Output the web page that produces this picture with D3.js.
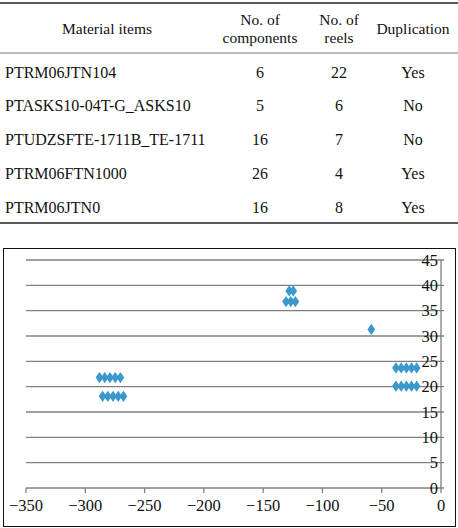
<!DOCTYPE html>
<html>
<head>
<meta charset="utf-8">
<script src="https://cdn.jsdelivr.net/npm/d3@7"></script>
<style>
  body { margin: 0; background: #fff; }
</style>
</head>
<body>
<div class="container"></div>
<script>
var headers = [["Material items"], ["No. of", "components"], ["No. of", "reels"], ["Duplication"]];
var items = ["PTRM06JTN104", "PTASKS10-04T-G_ASKS10", "PTUDZSFTE-1711B_TE-1711", "PTRM06FTN1000", "PTRM06JTN0"];
var components = [6, 5, 16, 26, 16];
var reels = [22, 6, 7, 4, 8];
var duplication = ["Yes", "No", "No", "Yes", "Yes"];

// scatter points (x, y)
var xs = [-288, -283.6, -279.2, -274.8, -270.4,
          -285.4, -281, -276.6, -272.2, -267.8,
          -128, -124.6,
          -130.7, -126.7, -122.8,
          -58.8,
          -38, -33.6, -29.2, -24.9, -20.5,
          -38, -33.6, -29.2, -24.9, -20.5];
var ys = [21.8, 21.8, 21.8, 21.8, 21.8,
          18.1, 18.1, 18.1, 18.1, 18.1,
          38.9, 38.9,
          36.8, 36.8, 36.8,
          31.3,
          23.7, 23.7, 23.7, 23.7, 23.7,
          20.1, 20.1, 20.1, 20.1, 20.1];
var xTicks = [-350, -300, -250, -200, -150, -100, -50, 0];
var yTicks = [0, 5, 10, 15, 20, 25, 30, 35, 40, 45];

var svg = d3.select('.container')
    .append('svg')
    .attr('width', 458)
    .attr('height', 528)
    .style('font-family', "'Liberation Serif', 'DejaVu Serif', serif");

// ---- table ----
var colX = [107, 260, 339, 413];
var rowY = d3.scaleLinear().domain([0, 4]).range([72, 207]);

svg.append('line').attr('x1', 0).attr('x2', 458).attr('y1', 3).attr('y2', 3)
    .style('stroke', '#222').style('stroke-width', 1.5);
svg.append('line').attr('x1', 0).attr('x2', 458).attr('y1', 53).attr('y2', 53)
    .style('stroke', '#777').style('stroke-width', 1);
svg.append('line').attr('x1', 0).attr('x2', 458).attr('y1', 223).attr('y2', 223)
    .style('stroke', '#222').style('stroke-width', 1.5);

headers.forEach(function(h, i) {
    h.forEach(function(line, j) {
        var y = h.length == 1 ? 29 : (j == 0 ? 20 : 38);
        svg.append('text')
            .attr('x', colX[i])
            .attr('y', y)
            .attr('dy', '0.35em')
            .attr('text-anchor', 'middle')
            .style('font-size', '15.5px')
            .style('fill', '#111')
            .text(line);
    });
});

items.forEach(function(d, i) {
    var y = rowY(i);
    var row = [d, components[i], reels[i], duplication[i]];
    row.forEach(function(v, k) {
        svg.append('text')
            .attr('x', k == 0 ? 5 : colX[k])
            .attr('y', y)
            .attr('dy', '0.35em')
            .attr('text-anchor', k == 0 ? 'start' : 'middle')
            .style('font-size', '16px')
            .style('fill', '#111')
            .text(v);
    });
});

// ---- chart ----
svg.append('rect')
    .attr('x', 3.5).attr('y', 248.5)
    .attr('width', 452).attr('height', 278)
    .style('fill', 'none').style('stroke', '#111').style('stroke-width', 1);

var x = d3.scaleLinear().domain([-350, 0]).range([26, 441]);
var y = d3.scaleLinear().domain([0, 45]).range([488, 260]);

svg.selectAll('.grid')
    .data(yTicks)
    .enter()
    .append('line')
    .attr('class', 'grid')
    .attr('x1', x(-350))
    .attr('x2', x(0) + 3)
    .attr('y1', d => y(d))
    .attr('y2', d => y(d))
    .style('stroke', '#808080')
    .style('stroke-width', 1.3);

svg.append('line')
    .attr('x1', x(0)).attr('x2', x(0))
    .attr('y1', y(45)).attr('y2', y(0))
    .style('stroke', '#808080').style('stroke-width', 1.3);

svg.selectAll('.xtick')
    .data(xTicks)
    .enter()
    .append('line')
    .attr('class', 'xtick')
    .attr('x1', d => x(d))
    .attr('x2', d => x(d))
    .attr('y1', y(0))
    .attr('y2', y(0) + 5)
    .style('stroke', '#808080')
    .style('stroke-width', 1.3);

svg.selectAll('.xlab')
    .data(xTicks)
    .enter()
    .append('text')
    .attr('class', 'xlab')
    .attr('x', d => x(d))
    .attr('y', 505)
    .attr('dy', '0.35em')
    .attr('text-anchor', 'middle')
    .style('font-size', '16.5px')
    .style('fill', '#111')
    .text(d => d < 0 ? '\u2212' + (-d) : d);

svg.selectAll('.ylab')
    .data(yTicks)
    .enter()
    .append('text')
    .attr('class', 'ylab')
    .attr('x', x(0) - 3)
    .attr('y', d => y(d))
    .attr('dy', '0.35em')
    .attr('text-anchor', 'end')
    .style('font-size', '16.5px')
    .style('fill', '#111')
    .text(d => d);

var diamond = d3.symbol().type(d3.symbolDiamond).size(36);

svg.selectAll('.pt')
    .data(xs)
    .enter()
    .append('path')
    .attr('class', 'pt')
    .attr('d', diamond)
    .attr('transform', (d, i) => 'translate(' + x(d) + ',' + y(ys[i]) + ') scale(1.2,1)')
    .style('fill', '#3a98cc');
</script>
</body>
</html>
